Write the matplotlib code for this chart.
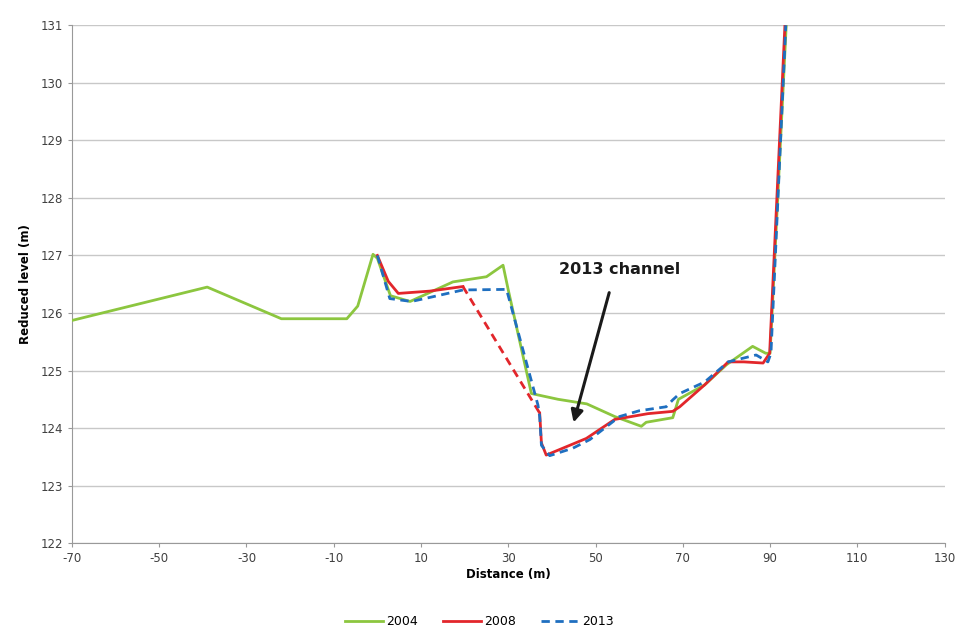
import matplotlib
matplotlib.use("Agg")
import matplotlib.pyplot as plt

x2004 = [-70, -39, -22, -7, -4.5, -1, 0, 3, 7.5, 17.3, 25, 28.8, 30, 35.3, 41.4, 48, 54.4, 60.5, 61.6, 67.7, 69, 75, 80, 86, 89, 90, 93.7]
y2004 = [125.87, 126.45, 125.9, 125.9, 126.12, 127.02, 126.95, 126.3, 126.2, 126.54, 126.63, 126.83, 126.4, 124.6, 124.5, 124.42, 124.2, 124.03, 124.1, 124.18, 124.5, 124.75, 125.1, 125.42, 125.3, 125.3, 131.0]

x2008_a = [0, 2.5, 4.8, 12, 19.6]
y2008_a = [127.0, 126.55, 126.34, 126.38, 126.46]
x2008_b = [19.6, 37.2]
y2008_b = [126.46, 124.26]
x2008_c = [37.2, 37.6, 38.7, 47.9, 54.4, 62, 67.7, 69.3, 75, 80.4, 84, 88.4, 89.9, 93.4]
y2008_c = [124.26, 123.74, 123.53, 123.82, 124.15, 124.25, 124.29, 124.37, 124.75, 125.15, 125.15, 125.13, 125.3, 131.0]

x2013 = [0, 2.85, 7.8, 12, 19.6, 29.6, 36.8, 37.2, 37.6, 39.5, 44.8, 48.7, 55.5, 60, 66.2, 67.7, 69.3, 75, 80.4, 86.8, 89.5, 90.2, 93.6]
y2013 = [127.0, 126.25, 126.2, 126.27, 126.4, 126.41, 124.4, 124.2, 123.7, 123.52, 123.65, 123.8, 124.2, 124.3, 124.37, 124.49, 124.6, 124.8, 125.15, 125.27, 125.15, 125.3, 131.0]

xticks = list(range(-70, 131, 20))
yticks = list(range(122, 132))

plt.rcParams['font.family'] = ['DejaVu Sans']
plt.rcParams['axes.unicode_minus'] = False
fig = plt.figure(figsize=(9.59, 6.33), dpi=100)
ax = fig.add_axes([0.075, 0.142, 0.910, 0.818])

green = '#8cc63f'
red = '#e2262b'
blue = '#1f6fc0'

ax.plot(x2004, y2004, color=green, lw=2.0, label='2004', zorder=3)
l2008, = ax.plot(x2008_a, y2008_a, color=red, lw=2.0, label='2008', zorder=4)
ax.plot(x2008_b, y2008_b, color=red, lw=2.0, ls=(0, (3, 2)), zorder=4)
ax.plot(x2008_c, y2008_c, color=red, lw=2.0, zorder=4)
ax.plot(x2013, y2013, color=blue, lw=2.0, ls=(0, (3, 2)), label='2013', zorder=5)

ax.set_xlim(-70, 130)
ax.set_ylim(122, 131)
ax.set_xticks(xticks)
ax.set_yticks(yticks)
ax.tick_params(labelsize=8.5, colors='#404040', length=3, color='#999999')
ax.yaxis.grid(True, color='#c8c8c8', lw=1)
ax.set_axisbelow(True)
for s in ['top', 'right']:
    ax.spines[s].set_visible(False)
for s in ['left', 'bottom']:
    ax.spines[s].set_color('#999999')

ax.set_xlabel('Distance (m)', fontsize=8.5, fontweight='bold', labelpad=2)
ax.set_ylabel('Reduced level (m)', fontsize=8.5, fontweight='bold', labelpad=6)

ax.annotate('', xy=(44.8, 124.05), xytext=(53.3, 126.4),
            arrowprops=dict(arrowstyle='-|>', color='#1a1a1a', lw=2.2, mutation_scale=18))
ax.text(55.5, 126.75, '2013 channel', fontsize=11.5, fontweight='bold', ha='center', va='center', color='#1a1a1a')

fig.legend(loc='lower center', ncol=3, frameon=False, fontsize=9, bbox_to_anchor=(0.5, -0.01),
           handlelength=3, columnspacing=2.0, handletextpad=0.3)

fig.savefig('out.png', dpi=100)
